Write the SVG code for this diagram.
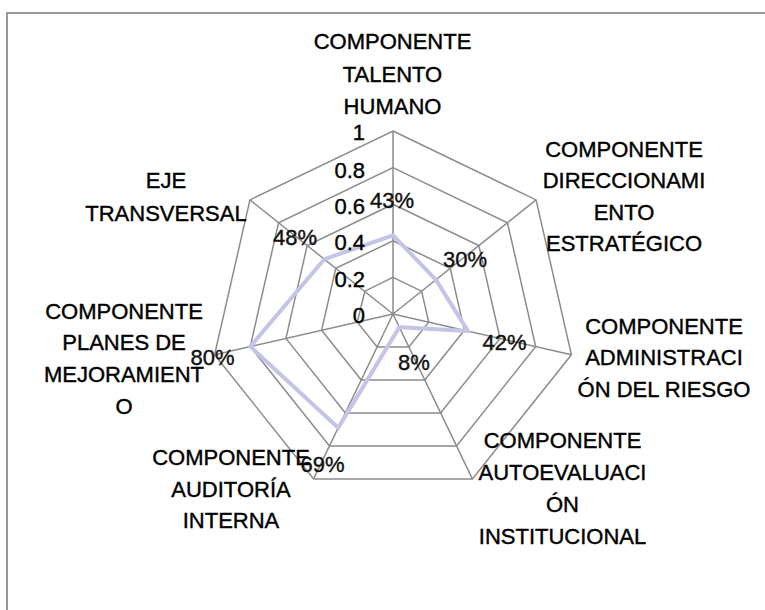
<svg xmlns="http://www.w3.org/2000/svg" width="765" height="610" viewBox="0 0 765 610">
<style>
.grid{fill:none;stroke:#8c8c8c;stroke-width:1.5}
.data{fill:none;stroke:#c4c4e6;stroke-width:4;stroke-linejoin:miter}
text{font-family:"Liberation Sans",Arial,sans-serif;font-size:22px;fill:#000;stroke:#000;stroke-width:0.4}
.lbl{text-anchor:middle}
.tick{text-anchor:end}
.pct{text-anchor:middle;fill:#111;stroke:#111}
</style>
<rect x="0" y="0" width="765" height="610" fill="#fff"/>
<path d="M7,610 V13 H765" fill="none" stroke="#9a9a9a" stroke-width="2"/>
<g id="grid">
<polygon class="grid" points="393,131 536.07,199.90 571.41,354.72 472.40,478.88 313.60,478.88 214.59,354.72 249.93,199.90"/>
<polygon class="grid" points="393,167.6 507.46,222.72 535.73,346.58 456.52,445.90 329.48,445.90 250.27,346.58 278.54,222.72"/>
<polygon class="grid" points="393,204.2 478.84,245.54 500.05,338.43 440.64,412.93 345.36,412.93 285.95,338.43 307.16,245.54"/>
<polygon class="grid" points="393,240.8 450.23,268.36 464.36,330.29 424.76,379.95 361.24,379.95 321.64,330.29 335.77,268.36"/>
<polygon class="grid" points="393,277.4 421.62,291.18 428.68,322.14 408.88,346.98 377.12,346.98 357.32,322.14 364.88,291.18"/>
</g>
<g id="connectors">
<path class="grid" d="M393,314 L393,131 M393,314 L536.07,199.90 M393,314 L571.41,354.72 M393,314 L472.40,478.88 M393,314 L313.60,478.88 M393,314 L214.59,354.72 M393,314 L249.93,199.90"/>
</g>
<g id="series">
<polygon class="data" points="393,235.31 435.92,279.77 467.93,331.10 399.35,327.19 338.21,427.77 250.27,346.58 324.32,259.23"/>
</g>
<g id="ticks">
<text class="tick" x="365" y="140">1</text>
<text class="tick" x="365" y="178">0.8</text>
<text class="tick" x="365" y="213.5">0.6</text>
<text class="tick" x="365" y="250">0.4</text>
<text class="tick" x="365" y="286.5">0.2</text>
<text class="tick" x="365" y="323">0</text>
</g>
<g id="values">
<text class="pct" x="392" y="208">43%</text>
<text class="pct" x="465" y="267">30%</text>
<text class="pct" x="504.5" y="350">42%</text>
<text class="pct" x="414" y="370">8%</text>
<text class="pct" x="322.5" y="472">69%</text>
<text class="pct" x="212.5" y="365">80%</text>
<text class="pct" x="295" y="245">48%</text>
</g>
<g id="node-talento">
<text class="lbl" x="392.5" y="49">COMPONENTE</text>
<text class="lbl" x="392.5" y="81.5">TALENTO</text>
<text class="lbl" x="392.5" y="114">HUMANO</text>
</g>
<g id="node-direccionamiento">
<text class="lbl" x="624" y="156.5">COMPONENTE</text>
<text class="lbl" x="624" y="188">DIRECCIONAMI</text>
<text class="lbl" x="624" y="219.5">ENTO</text>
<text class="lbl" x="624" y="251">ESTRATÉGICO</text>
</g>
<g id="node-riesgo">
<text class="lbl" x="664" y="333.5">COMPONENTE</text>
<text class="lbl" x="664" y="365">ADMINISTRACI</text>
<text class="lbl" x="664" y="396.5">ÓN DEL RIESGO</text>
</g>
<g id="node-autoevaluacion">
<text class="lbl" x="562.5" y="447.5">COMPONENTE</text>
<text class="lbl" x="562.5" y="480">AUTOEVALUACI</text>
<text class="lbl" x="562.5" y="511.5">ÓN</text>
<text class="lbl" x="562.5" y="543.5">INSTITUCIONAL</text>
</g>
<g id="node-auditoria">
<text class="lbl" x="231" y="465">COMPONENTE</text>
<text class="lbl" x="231" y="496.5">AUDITORÍA</text>
<text class="lbl" x="231" y="528">INTERNA</text>
</g>
<g id="node-planes">
<text class="lbl" x="124" y="318.5">COMPONENTE</text>
<text class="lbl" x="124" y="350">PLANES DE</text>
<text class="lbl" x="124" y="381.5">MEJORAMIENT</text>
<text class="lbl" x="124" y="413.5">O</text>
</g>
<g id="node-eje">
<text class="lbl" x="166" y="187.5">EJE</text>
<text class="lbl" x="166" y="220.5">TRANSVERSAL</text>
</g>
</svg>
